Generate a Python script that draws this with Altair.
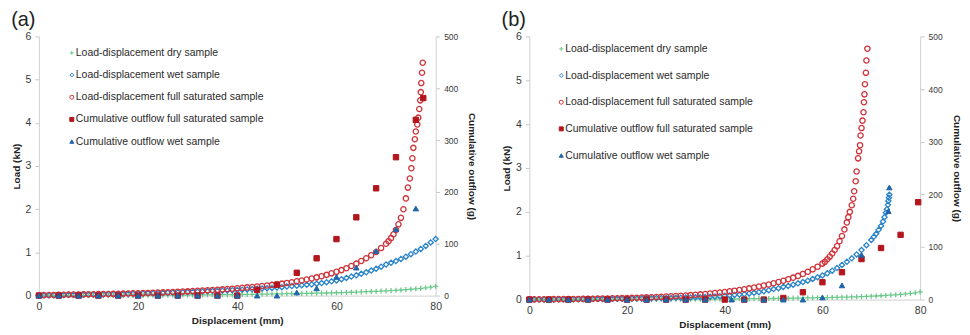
import altair as alt
import pandas as pd

SERIES = [
    "Load-displacement dry sample",
    "Load-displacement wet sample",
    "Load-displacement full saturated sample",
    "Cumulative outflow full saturated sample",
    "Cumulative outflow wet sample",
]
FILL = ["transparent", "transparent", "transparent", "#b3151d", "#1f65a8"]
STROKE = ["#6cc88a", "#2a84c8", "#cf343b", "#b3151d", "#1f65a8"]
SHAPES = ["M-1,0L1,0M0,-1L0,1", "diamond", "circle", "square", "triangle-up"]
SIZES = [26, 30, 32, 30, 28]

# ---------------- panel (a) ----------------
A_DRY_X = list(range(0, 81))
A_DRY_Y = [0.00, 0.00, 0.00, 0.00, 0.00, 0.005, 0.005, 0.005, 0.005, 0.005,
           0.005, 0.005, 0.005, 0.005, 0.005, 0.005, 0.005, 0.005, 0.005, 0.005,
           0.005, 0.006, 0.007, 0.008, 0.009, 0.01, 0.01, 0.011, 0.012, 0.013,
           0.014, 0.015, 0.016, 0.017, 0.018, 0.019, 0.02, 0.021, 0.022, 0.023,
           0.024, 0.026, 0.028, 0.03, 0.032, 0.034, 0.036, 0.038, 0.04, 0.042,
           0.044, 0.046, 0.048, 0.05, 0.052, 0.054, 0.056, 0.058, 0.06, 0.063,
           0.066, 0.07, 0.074, 0.078, 0.082, 0.086, 0.09, 0.095, 0.1, 0.105,
           0.11, 0.116, 0.122, 0.13, 0.138, 0.147, 0.157, 0.168, 0.18, 0.195, 0.215]

A_WET_X = list(range(0, 81))
A_WET_Y = [0.005, 0.007, 0.009, 0.011, 0.013, 0.015, 0.017, 0.019, 0.021, 0.023,
           0.025, 0.027, 0.029, 0.031, 0.033, 0.035, 0.037, 0.039, 0.041, 0.044,
           0.047, 0.05, 0.053, 0.056, 0.059, 0.062, 0.066, 0.07, 0.074, 0.078,
           0.082, 0.086, 0.09, 0.095, 0.1, 0.105, 0.11, 0.115, 0.12, 0.126,
           0.132, 0.138, 0.144, 0.15, 0.157, 0.164, 0.171, 0.178, 0.186, 0.194,
           0.21, 0.22, 0.23, 0.24, 0.25, 0.26, 0.275, 0.29, 0.31, 0.33,
           0.35, 0.38, 0.41, 0.44, 0.47, 0.505, 0.54, 0.58, 0.62, 0.67,
           0.72, 0.76, 0.8, 0.85, 0.9, 0.96, 1.02, 1.08, 1.15, 1.23, 1.31]

A_SAT_X = list(range(0, 70)) + [70, 70.5, 71, 71.5, 72, 72.5, 73, 73.5, 74, 74.4, 74.8, 75.1,
                                75.3, 75.5, 75.8, 76.0, 76.3, 76.5, 76.7, 76.9, 77.0, 77.1, 77.25, 77.4]
A_SAT_Y = [0.01, 0.012, 0.014, 0.016, 0.018, 0.02, 0.022, 0.024, 0.026, 0.028,
           0.03, 0.032, 0.034, 0.036, 0.038, 0.04, 0.043, 0.046, 0.049, 0.052,
           0.055, 0.058, 0.062, 0.066, 0.07, 0.074, 0.078, 0.083, 0.088, 0.093,
           0.098, 0.104, 0.11, 0.116, 0.122, 0.129, 0.136, 0.144, 0.152, 0.16,
           0.17, 0.18, 0.19, 0.2, 0.21, 0.222, 0.235, 0.248, 0.262, 0.277,
           0.293, 0.31, 0.33, 0.35, 0.372, 0.396, 0.422, 0.45, 0.48, 0.515,
           0.55, 0.59, 0.635, 0.685, 0.74, 0.8, 0.865, 0.935, 1.01, 1.1,
           1.2, 1.26, 1.33, 1.42, 1.52, 1.65, 1.8, 2.0, 2.25, 2.5, 2.71, 2.95,
           3.18, 3.42, 3.62, 3.8, 3.96, 4.12, 4.32, 4.52, 4.71, 4.92, 5.16, 5.39]

A_FLOW_SAT_X = [0, 4, 8, 12, 16, 20, 24, 28, 32, 36, 40, 44, 48, 52, 56, 60, 64, 68, 72, 76, 77.5]
A_FLOW_SAT_Y = [0, 0, 0, 0, 0, 0, 0, 0, 0, 0, 0, 11, 21, 44, 72, 109, 151, 207, 267, 339, 381]
A_FLOW_WET_X = [0, 4, 8, 12, 16, 20, 24, 28, 32, 36, 40, 44, 48, 52, 56, 60, 64, 68, 72, 76]
A_FLOW_WET_Y = [0, 0, 0, 0, 0, 0, 0, 0, 0, 0, 0, 0, 0, 6, 14, 36, 54, 86, 128, 168]

# ---------------- panel (b) ----------------
B_DRY_X = list(range(0, 81))
B_DRY_Y = [0, 0, 0, 0, 0, 0, 0, 0, 0, 0,
           0.001, 0.001, 0.001, 0.002, 0.002, 0.002, 0.002, 0.003, 0.003, 0.003,
           0.003, 0.004, 0.004, 0.004, 0.005, 0.005, 0.005, 0.006, 0.006, 0.007,
           0.007, 0.008, 0.008, 0.009, 0.009, 0.01, 0.011, 0.012, 0.013, 0.014,
           0.015, 0.016, 0.017, 0.018, 0.019, 0.02, 0.021, 0.022, 0.023, 0.024,
           0.025, 0.027, 0.029, 0.031, 0.033, 0.035, 0.037, 0.039, 0.041, 0.043,
           0.045, 0.047, 0.049, 0.051, 0.054, 0.057, 0.06, 0.064, 0.068, 0.072,
           0.077, 0.082, 0.088, 0.094, 0.101, 0.109, 0.118, 0.128, 0.14, 0.155, 0.175]

B_WET_X = list(range(0, 70)) + [70, 70.5, 71, 71.5, 72, 72.4, 72.7, 73.0, 73.2, 73.4, 73.5, 73.6, 73.7]
B_WET_Y = [0.0, 0.001, 0.002, 0.003, 0.004, 0.005, 0.006, 0.007, 0.008, 0.009,
           0.01, 0.011, 0.012, 0.013, 0.014, 0.015, 0.016, 0.017, 0.018, 0.019,
           0.02, 0.022, 0.024, 0.026, 0.028, 0.03, 0.032, 0.034, 0.036, 0.038,
           0.04, 0.043, 0.046, 0.049, 0.052, 0.055, 0.059, 0.064, 0.07, 0.077,
           0.085, 0.095, 0.105, 0.115, 0.125, 0.14, 0.155, 0.17, 0.19, 0.215,
           0.24, 0.26, 0.29, 0.31, 0.34, 0.37, 0.4, 0.43, 0.47, 0.51,
           0.55, 0.6, 0.66, 0.72, 0.79, 0.86, 0.94, 1.03, 1.13, 1.24,
           1.36, 1.43, 1.5, 1.59, 1.68, 1.78, 1.88, 1.98, 2.06, 2.16, 2.25, 2.32, 2.39]

B_SAT_X = list(range(0, 60)) + [60, 60.5, 61, 61.5, 62, 62.5, 63, 63.5, 64, 64.5, 65, 65.3, 65.6, 66,
                                66.3, 66.5, 66.8, 67.0, 67.3, 67.5, 67.7, 67.8, 68.0, 68.2, 68.4,
                                68.5, 68.6, 68.7, 68.9, 69.0, 69.2]
B_SAT_Y = [0.005, 0.006, 0.007, 0.008, 0.009, 0.01, 0.011, 0.012, 0.013, 0.014,
           0.015, 0.016, 0.018, 0.02, 0.022, 0.024, 0.026, 0.028, 0.03, 0.033,
           0.036, 0.039, 0.042, 0.046, 0.05, 0.054, 0.058, 0.063, 0.068, 0.074,
           0.08, 0.087, 0.094, 0.102, 0.11, 0.119, 0.128, 0.138, 0.149, 0.161,
           0.174, 0.188, 0.203, 0.219, 0.236, 0.255, 0.275, 0.297, 0.32, 0.345,
           0.372, 0.4, 0.43, 0.465, 0.5, 0.54, 0.585, 0.635, 0.69, 0.75,
           0.82, 0.86, 0.92, 0.98, 1.05, 1.13, 1.22, 1.33, 1.45, 1.6, 1.76, 1.88, 2.0, 2.15,
           2.3, 2.47, 2.7, 2.92, 3.22, 3.38, 3.52, 3.74, 3.91, 4.08, 4.27,
           4.5, 4.68, 4.91, 5.17, 5.45, 5.72]

B_FLOW_SAT_X = [0, 4, 8, 12, 16, 20, 24, 28, 32, 36, 40, 44, 48, 52, 56, 60, 64, 68, 72, 76, 79.6]
B_FLOW_SAT_Y = [0, 0, 0, 0, 0, 0, 0, 0, 0, 0, 0, 0, 0, 3, 14, 33, 52, 77, 98, 123, 185]
B_FLOW_WET_X = [0, 4, 8, 12, 16, 20, 24, 28, 32, 36, 41.4, 44, 48, 52, 56, 60, 64, 68, 73.5, 73.7]
B_FLOW_WET_Y = [0, 0, 0, 0, 0, 0, 0, 0, 0, 0, 0, 0, 0, 0, 0, 4, 27, 85, 168, 213]


def frame(pairs, col):
    rows = []
    for name, xs, ys in pairs:
        for xv, yv in zip(xs, ys):
            rows.append({"series": name, "disp": xv, col: yv})
    return pd.DataFrame(rows)


FONT = "Liberation Sans"
FILL_ENC = alt.Fill("series:N", scale=alt.Scale(domain=SERIES, range=FILL), legend=None)
STROKE_ENC = alt.Stroke("series:N", scale=alt.Scale(domain=SERIES, range=STROKE), legend=None)
SHAPE_ENC = alt.Shape("series:N", scale=alt.Scale(domain=SERIES, range=SHAPES), legend=None)
SIZE_ENC = alt.Size("series:N", scale=alt.Scale(domain=SERIES, range=SIZES), legend=None)


def panel(label, load_pairs, flow_pairs, height, width, leg_x, leg_y0, leg_y1):
    load_df = frame(load_pairs, "load")
    flow_df = frame(flow_pairs, "flow")
    legend_df = pd.DataFrame({"series": SERIES})
    x = alt.X("disp:Q", scale=alt.Scale(domain=[0, 80], nice=False),
              axis=alt.Axis(values=[0, 20, 40, 60, 80], title="Displacement (mm)", ticks=False,
                            labelFlush=False, labelPadding=6, titlePadding=3))
    loads = alt.Chart(load_df).mark_point(strokeWidth=1.3, opacity=1).encode(
        x=x,
        y=alt.Y("load:Q", scale=alt.Scale(domain=[0, 6], nice=False),
                axis=alt.Axis(orient="left", values=[0, 1, 2, 3, 4, 5, 6], title="Load (kN)",
                              labelFlush=False, labelPadding=4, titlePadding=4)),
        fill=FILL_ENC, stroke=STROKE_ENC, shape=SHAPE_ENC, size=SIZE_ENC,
    )
    flows = alt.Chart(flow_df).mark_point(strokeWidth=1, opacity=1).encode(
        x=x,
        y=alt.Y("flow:Q", scale=alt.Scale(domain=[0, 500], nice=False),
                axis=alt.Axis(orient="right", values=[0, 100, 200, 300, 400, 500],
                              title="Cumulative outflow (g)", labelFontSize=8.5, labelFlush=False,
                              labelPadding=4, titlePadding=9)),
        fill=FILL_ENC, stroke=STROKE_ENC, shape=SHAPE_ENC, size=SIZE_ENC,
    )
    leg_y = alt.Y("series:N", scale=alt.Scale(domain=SERIES, range=[leg_y0, leg_y1], padding=0), axis=None)
    leg_pts = alt.Chart(legend_df).mark_point(strokeWidth=1, opacity=1, size=16).encode(
        x=alt.value(leg_x), y=leg_y, fill=FILL_ENC, stroke=STROKE_ENC, shape=SHAPE_ENC,
    )
    leg_txt = alt.Chart(legend_df).mark_text(
        align="left", baseline="middle", dx=4, font=FONT, fontSize=10.5, color="#2b2b2b"
    ).encode(x=alt.value(leg_x), y=leg_y, text="series:N")
    return alt.layer(loads, flows, leg_pts, leg_txt).resolve_scale(y="independent").properties(
        width=width, height=height,
        title=alt.TitleParams(label, anchor="start", frame="bounds", fontSize=20,
                              fontWeight="normal", font=FONT, color="#222222", offset=1, dx=0),
    )


pa = panel(
    "(a)",
    [(SERIES[0], A_DRY_X, A_DRY_Y), (SERIES[1], A_WET_X, A_WET_Y), (SERIES[2], A_SAT_X, A_SAT_Y)],
    [(SERIES[3], A_FLOW_SAT_X, A_FLOW_SAT_Y), (SERIES[4], A_FLOW_WET_X, A_FLOW_WET_Y)],
    260, 398, 33, 16.5, 105.5,
)
pb = panel(
    "(b)",
    [(SERIES[0], B_DRY_X, B_DRY_Y), (SERIES[1], B_WET_X, B_WET_Y), (SERIES[2], B_SAT_X, B_SAT_Y)],
    [(SERIES[3], B_FLOW_SAT_X, B_FLOW_SAT_Y), (SERIES[4], B_FLOW_WET_X, B_FLOW_WET_Y)],
    264, 392, 32, 12.5, 119.5,
)

chart = alt.hconcat(pa, pb, spacing=24).configure_axis(
    labelFont=FONT, labelFontSize=10.5, labelColor="#3a3a3a",
    titleFont=FONT, titleFontSize=10, titleFontWeight="bold", titleColor="#222222",
    domainColor="#d0d0d0", tickColor="#c8c8c8", tickSize=4, grid=False,
).configure_view(stroke=None).properties(background="white", padding={"left": 3, "top": 2, "right": 0, "bottom": 0})

chart.save("out.html", embed_options={"renderer": "svg", "actions": False})
